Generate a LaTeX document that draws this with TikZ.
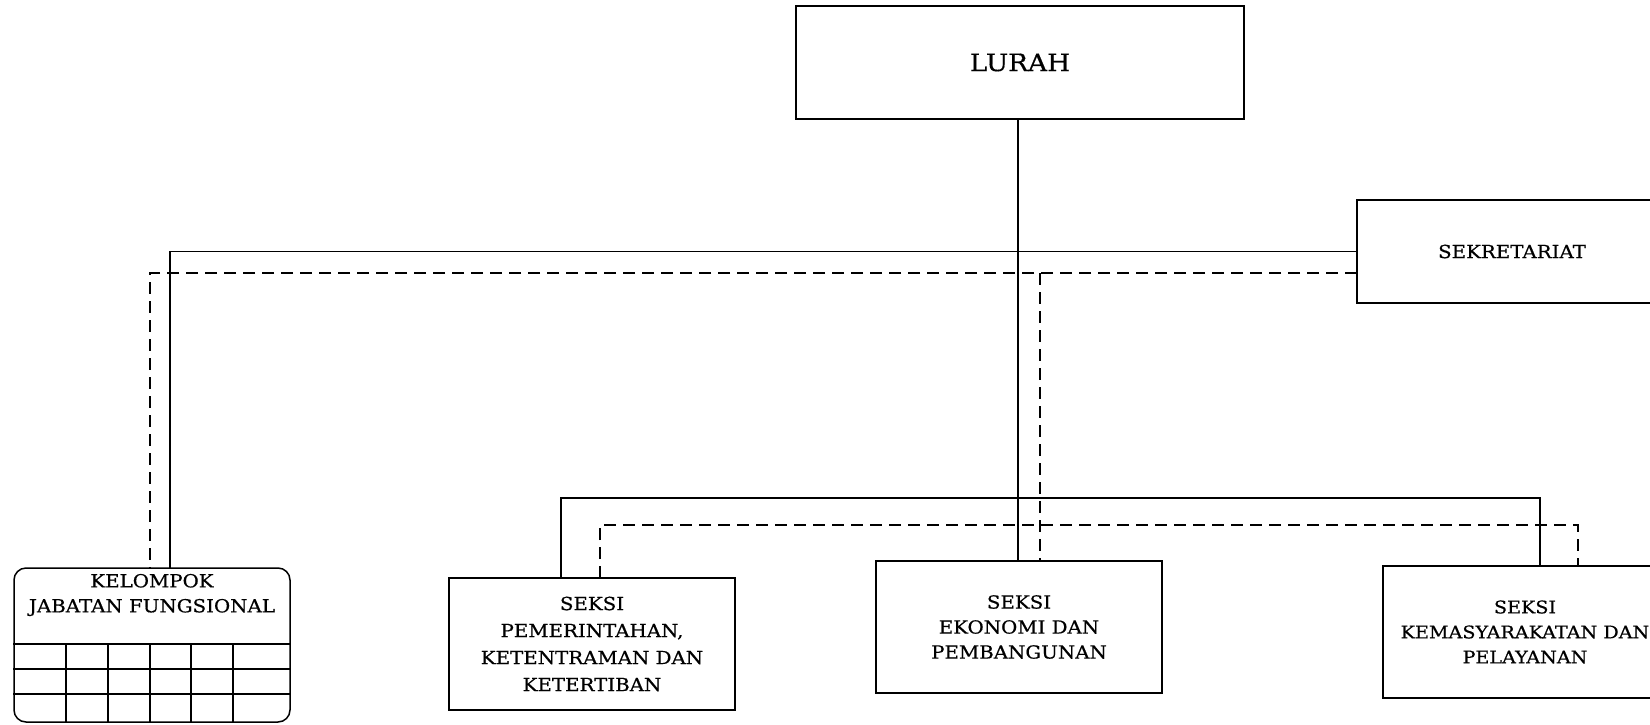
\documentclass[tikz,border=0pt]{standalone}
\usepackage{fontspec}
\setmainfont{DejaVu Serif}[FakeStretch=1.1, FakeBold=0.6]
\tikzset{
  box/.style={draw, line width=1.5pt, rectangle, align=center, inner sep=0pt,
    font=\fontsize{18}{25}\selectfont},
  lnk/.style={line width=1.5pt},
  dlnk/.style={line width=1.5pt, dash pattern=on 12pt off 7pt},
  grid/.style={line width=1.3pt}
}
\begin{document}
\begin{tikzpicture}[x=1pt,y=-1pt]
\useasboundingbox (0,0) rectangle (1650,724);
\clip (0,0) rectangle (1650,724);
% boxes
\node[box, minimum width=448pt, minimum height=113pt, font=\fontsize{24}{30}\selectfont] (lurah) at (1020,62.5) {LURAH};
\node[box, minimum width=310pt, minimum height=103pt] (sek) at (1512,251.5) {SEKRETARIAT};
\node[box, minimum width=286pt, minimum height=132pt, font=\fontsize{18}{27}\selectfont] (pem) at (592,644) {SEKSI\\PEMERINTAHAN,\\KETENTRAMAN DAN\\KETERTIBAN};
\node[box, minimum width=286pt, minimum height=132pt] (eko) at (1019,627) {SEKSI\\EKONOMI DAN\\PEMBANGUNAN};
\node[box, minimum width=284pt, minimum height=132pt, font=\fontsize{17.4}{25}\selectfont] (kem) at (1525,632) {SEKSI\\KEMASYARAKATAN DAN\\PELAYANAN};
% kelompok jabatan fungsional
\node[draw, line width=1.5pt, rounded corners=12pt, minimum width=276pt, minimum height=154pt, inner sep=0pt] (kjf) at (152,645) {};
\node[align=center, inner sep=0pt, font=\fontsize{18}{25}\selectfont] (kjft) at (152,595) {KELOMPOK\\JABATAN FUNGSIONAL};
\foreach \yy in {644,669,694} \draw[grid] (kjf.west |- 0,\yy) -- (kjf.east |- 0,\yy);
\foreach \xx in {66,108,150,191,233} \draw[grid] (\xx,644) -- (\xx,722);
% anchor coordinates
\coordinate (kjfS) at (170,568);
\coordinate (kjfD) at (150,568);
\coordinate (sekD) at (1357,273);
\coordinate (ekoD) at (1040,561);
\coordinate (pemS) at (561,578);
\coordinate (pemD) at (600,578);
\coordinate (kemS) at (1540,566);
\coordinate (kemD) at (1578,566);
% solid connectors
\draw[lnk] (lurah.south -| 1018,0) -- (eko.north -| 1018,0);
\draw[lnk] (sek.west) -| (kjfS);
\draw[lnk] (pemS) -- ++(0,-80) -| (kemS);
% dashed connectors
\draw[dlnk] (sekD) -| (kjfD);
\draw[dlnk] (ekoD |- sekD) -- (ekoD);
\draw[dlnk] (pemD) -- ++(0,-53) -| (kemD);
\end{tikzpicture}
\end{document}
